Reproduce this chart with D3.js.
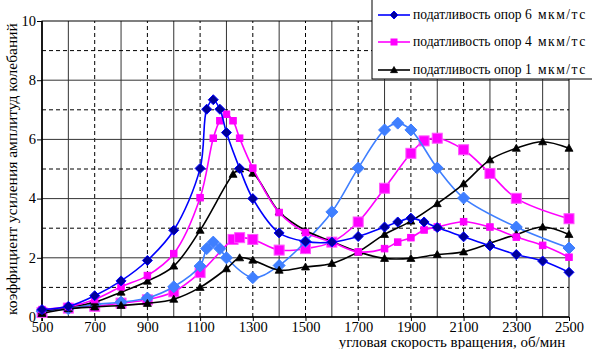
<!DOCTYPE html>
<html><head><meta charset="utf-8">
<script src="https://cdn.jsdelivr.net/npm/d3@7/dist/d3.min.js"></script>
</head><body style="margin:0">
<svg id="c" width="592" height="349"></svg>
<script>
// ---- data ----
const xTicks = [500,700,900,1100,1300,1500,1700,1900,2100,2300,2500];
const yTicks = [0,2,4,6,8,10];
const legendMain = ["податливость опор 6","податливость опор 4","податливость опор 1"];
const legendUnit = "мкм/тс";
const xAxisTitle = "угловая скорость вращения, об/мин";
const yAxisTitle = "коэффициент усиления амплитуд колебаний";

const darkBlueX = [500,600,700,800,900,1000,1100,1125,1150,1175,1200,1250,1300,1400,1500,1600,1700,1800,1850,1900,1950,2000,2100,2200,2300,2400,2500];
const darkBlueY = [0.25,0.36,0.72,1.22,1.91,2.93,5.02,7.02,7.34,7.02,6.23,5.02,4.0,2.84,2.55,2.53,2.72,3.04,3.21,3.34,3.21,3.02,2.71,2.4,2.11,1.89,1.51];

const lightBlueX = [500,600,700,800,900,1000,1100,1125,1150,1175,1200,1300,1400,1500,1600,1700,1800,1850,1900,2000,2100,2300,2500];
const lightBlueY = [0.2,0.28,0.42,0.5,0.64,1.02,1.72,2.31,2.53,2.31,2.0,1.33,1.74,2.55,3.55,5.03,6.32,6.55,6.32,5.03,4.02,3.04,2.33];

const pinkSmallX = [500,600,700,800,900,1000,1100,1150,1175,1200,1225,1250,1300,1400,1500,1600,1700,1800,1850,1900,1950,2000,2100,2200,2300,2400,2500];
const pinkSmallY = [0.25,0.35,0.59,1.02,1.4,2.14,4.03,6.04,6.63,6.85,6.63,6.04,5.03,3.53,2.85,2.53,2.2,2.31,2.53,2.68,2.94,3.04,3.22,3.04,2.7,2.42,2.02];

const pinkBigX = [500,600,700,800,900,1000,1100,1225,1250,1300,1400,1500,1600,1700,1800,1900,1950,2000,2100,2200,2300,2500];
const pinkBigY = [0.15,0.3,0.36,0.47,0.58,0.85,1.5,2.62,2.68,2.62,2.26,2.31,2.53,3.21,4.35,5.53,5.95,6.04,5.65,4.85,4.01,3.32];

const blackAX = [500,600,700,800,900,1000,1100,1225,1250,1300,1400,1500,1600,1700,1800,1900,2000,2100,2200,2300,2400,2500];
const blackAY = [0.2,0.34,0.5,0.84,1.21,1.72,2.93,4.82,5.0,4.86,3.55,2.92,2.55,2.2,1.98,1.98,2.11,2.2,2.49,2.79,3.04,2.79];

const blackBX = [500,600,700,800,900,1000,1100,1200,1250,1300,1400,1500,1600,1700,1800,1900,2000,2100,2200,2300,2400,2500];
const blackBY = [0.12,0.28,0.34,0.39,0.46,0.6,1.0,1.63,2.0,1.92,1.58,1.69,1.81,2.2,2.79,3.24,3.83,4.5,5.31,5.7,5.92,5.7];

// ---- layout ----
const svg = d3.select("#c");
const x = d3.scaleLinear().domain([500,2500]).range([42,569]);
const y = d3.scaleLinear().domain([0,10]).range([317,21]);
function serif(sel, size){ return sel.style("font-family",`"Liberation Serif"`).attr("font-size",size).attr("fill","#000"); }

// grid
const g = svg.append("g");
d3.range(600,2500,100).forEach(v=>{
  const dashed = (v/100)%2===1;
  g.append("line").attr("x1",x(v)).attr("x2",x(v)).attr("y1",y(0)).attr("y2",y(10))
    .attr("stroke", dashed?"#000":"#333").attr("stroke-width",1)
    .attr("stroke-dasharray", dashed?"4,3":null);
});
d3.range(1,10,1).forEach(v=>{
  const dashed = v%2===1;
  g.append("line").attr("x1",x(500)).attr("x2",x(2500)).attr("y1",y(v)).attr("y2",y(v))
    .attr("stroke", dashed?"#000":"#333").attr("stroke-width",1)
    .attr("stroke-dasharray", dashed?"4,3":null);
});
// frame
g.append("rect").attr("x",x(500)).attr("y",y(10)).attr("width",x(2500)-x(500)).attr("height",y(0)-y(10))
  .attr("fill","none").attr("stroke","#000").attr("stroke-width",1);
g.append("line").attr("x1",x(500)).attr("x2",x(500)).attr("y1",y(10)).attr("y2",y(0)+4).attr("stroke","#000").attr("stroke-width",1.6);
g.append("line").attr("x1",x(500)-4).attr("x2",x(2500)).attr("y1",y(0)).attr("y2",y(0)).attr("stroke","#000").attr("stroke-width",1.6);

// axes
const xAxis = d3.axisBottom(x).tickValues(xTicks).tickSize(4).tickFormat(d3.format("d"));
const ax = svg.append("g").attr("transform",`translate(0,${y(0)})`).call(xAxis);
ax.attr("font-family",null).attr("font-size",null);
ax.select(".domain").remove();
serif(ax.selectAll("text").attr("dy","0.75em").attr("y",4), 14.5);
const yAxis = d3.axisLeft(y).tickValues(yTicks).tickSize(5);
const ay = svg.append("g").attr("transform",`translate(${x(500)},0)`).call(yAxis);
ay.attr("font-family",null).attr("font-size",null);
ay.select(".domain").remove();
serif(ay.selectAll("text").attr("x",-6).attr("dy","0.3em"), 14.5);

serif(svg.append("text").attr("x",452).attr("y",347).attr("text-anchor","middle"), 15).text(xAxisTitle);
serif(svg.append("text").attr("transform",`translate(17,${(y(0)+y(10))/2}) rotate(-90)`)
  .attr("text-anchor","middle"), 15.5).text(yAxisTitle);

// series
const series = [
  {xs:pinkBigX, ys:pinkBigY, color:"#ff00ff", mk:"square", size:10, fill:"#ff00ff", stroke:"#ff55ff"},
  {xs:lightBlueX, ys:lightBlueY, color:"#3f7fff", mk:"diamond", size:6, fill:"#3f7fff", stroke:"#3f7fff"},
  {xs:blackBX, ys:blackBY, color:"#000", mk:"triangle", size:4, fill:"#000", stroke:"#000"},
  {xs:blackAX, ys:blackAY, color:"#000", mk:"triangle", size:4, fill:"#000", stroke:"#000"},
  {xs:pinkSmallX, ys:pinkSmallY, color:"#ff00ff", mk:"square", size:6.5, fill:"#ff00ff", stroke:"#ff00ff"},
  {xs:darkBlueX, ys:darkBlueY, color:"#0000ff", mk:"diamond", size:5, fill:"#000099", stroke:"#0000ff"}
];
const line = d3.line().x(d=>x(d[0])).y(d=>y(d[1])).curve(d3.curveCatmullRom.alpha(0.5));
function marker(sel, mk, size, fill, stroke){
  if(mk==="square"){
    sel.append("rect").attr("x",-size/2).attr("y",-size/2).attr("width",size).attr("height",size)
      .attr("fill",fill).attr("stroke",stroke).attr("stroke-width",1);
  } else if(mk==="diamond"){
    sel.append("path").attr("d",`M0,${-size}L${size},0L0,${size}L${-size},0Z`)
      .attr("fill",fill).attr("stroke",stroke).attr("stroke-width",1);
  } else {
    sel.append("path").attr("d",`M0,${-size}L${size},${size*0.75}L${-size},${size*0.75}Z`)
      .attr("fill",fill).attr("stroke",stroke).attr("stroke-width",0.8);
  }
}
series.forEach(s=>{
  const pts = s.xs.map((v,i)=>[v,s.ys[i]]);
  svg.append("path").datum(pts).attr("d",line).attr("fill","none")
    .attr("stroke",s.color).attr("stroke-width",1.6);
  pts.forEach(p=>{
    const m = svg.append("g").attr("transform",`translate(${x(p[0])},${y(p[1])})`);
    marker(m, s.mk, s.size, s.fill, s.stroke);
  });
});

// legend
const lg = svg.append("g");
lg.append("rect").attr("x",372).attr("y",-1).attr("width",240).attr("height",80)
  .attr("fill","#fff").attr("stroke","#000").attr("stroke-width",1);
const legendStyle = [
  {color:"#0000ff", mk:"diamond", size:4, fill:"#000099", stroke:"#0000ff"},
  {color:"#ff00ff", mk:"square", size:6, fill:"#ff00ff", stroke:"#ff00ff"},
  {color:"#000", mk:"triangle", size:3.5, fill:"#000", stroke:"#000"}
];
const legendY = [15,42,70];
legendMain.forEach((lab,i)=>{
  const st = legendStyle[i];
  lg.append("line").attr("x1",378).attr("x2",410).attr("y1",legendY[i]).attr("y2",legendY[i])
    .attr("stroke",st.color).attr("stroke-width",1.6);
  const m = lg.append("g").attr("transform",`translate(394,${legendY[i]})`);
  marker(m, st.mk, st.size, st.fill, st.stroke);
  const t = serif(lg.append("text").attr("y",legendY[i]).attr("dy","0.33em"), 13.6);
  t.append("tspan").attr("x",413).text(lab);
  t.append("tspan").attr("x",538).style("letter-spacing","1.5px").text(legendUnit);
});
</script>
</body></html>
